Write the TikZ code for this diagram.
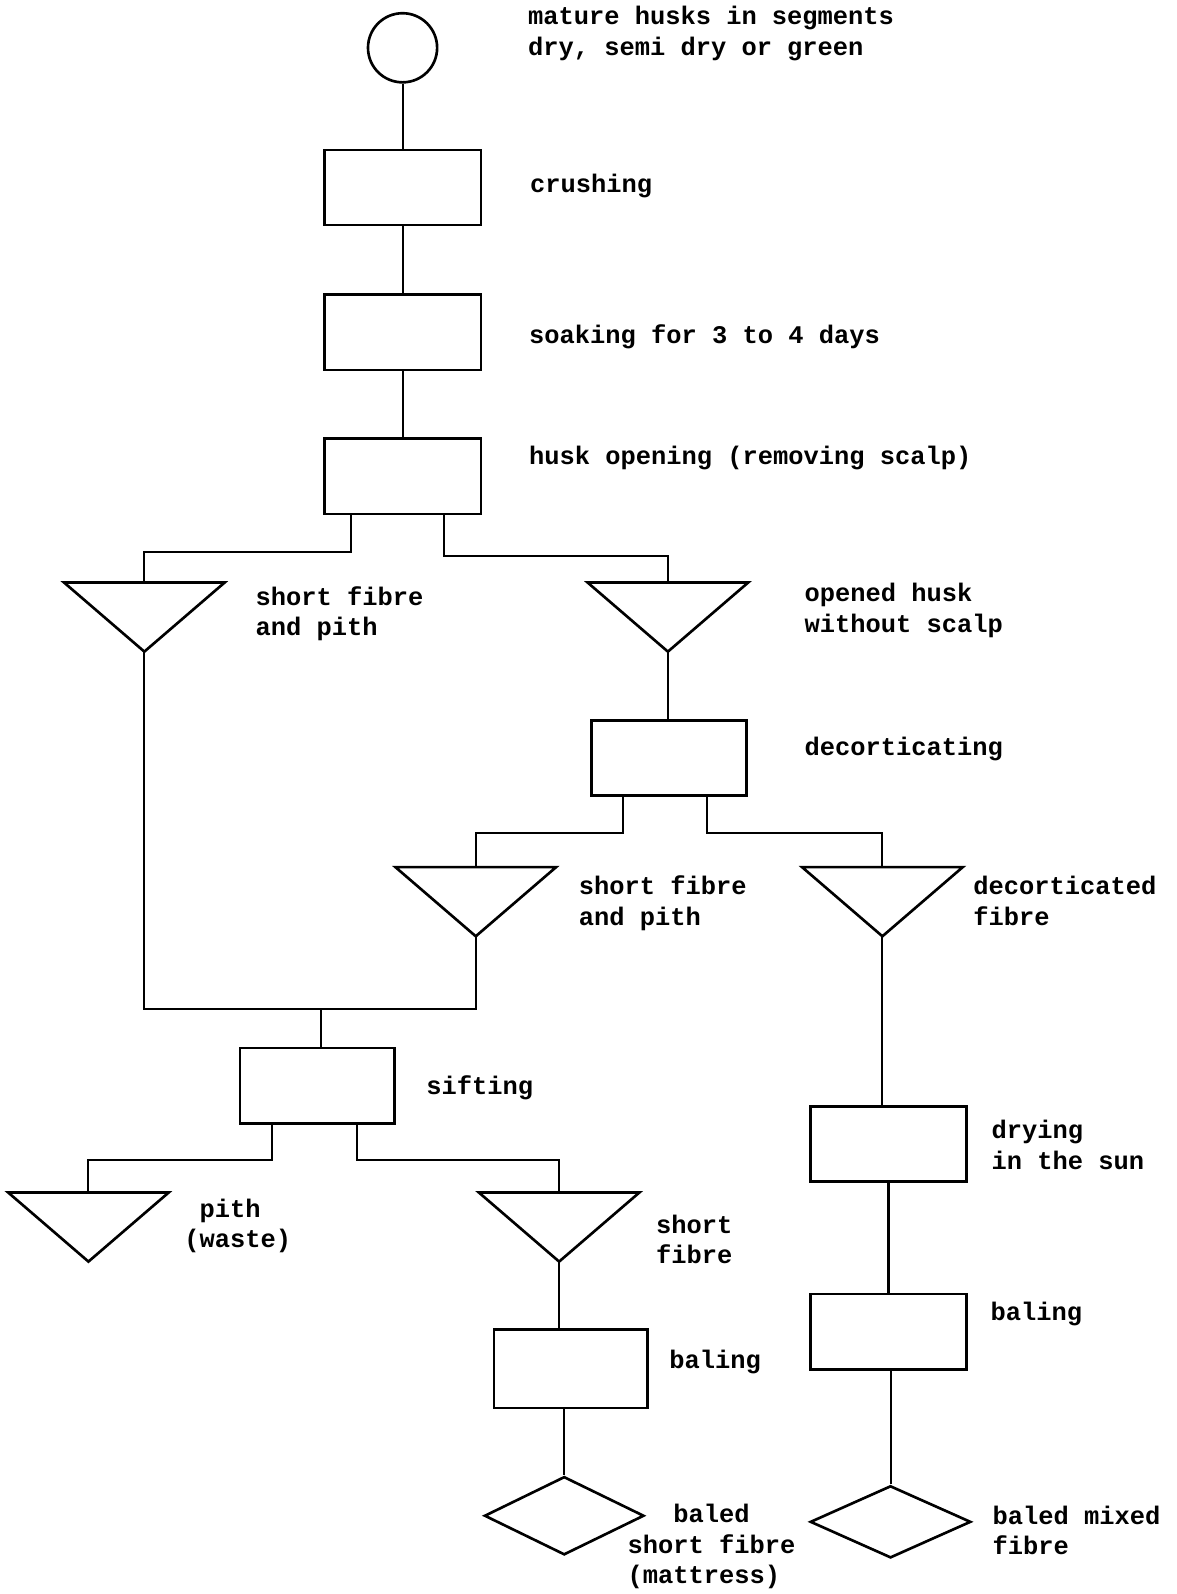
\documentclass[tikz,border=0pt]{standalone}
\usepackage{fontspec}
\setmainfont{Liberation Mono}
\usetikzlibrary{shapes.geometric}
% funnel (inverted triangle): #1 name of top centre, #2,#3 its position; apex is #1a
\newcommand\funnel[3]{%
  \coordinate (#1) at (#2,#3);
  \coordinate (#1a) at (#2,#3+68);
  \draw[shapeline] ([xshift=-39.5pt]#1) -- ([xshift=39.5pt]#1) -- (#1a) -- cycle;}
\begin{document}
\begin{tikzpicture}[x=0.5pt,y=-0.5pt,
  shapeline/.style={line width=1.3pt, line join=miter},
  conn/.style={line width=1pt},
  stepbox/.style={draw, shapeline, rectangle, inner sep=0pt, minimum width=77pt, minimum height=37pt},
  product/.style={draw, shapeline, diamond, inner sep=0pt, minimum width=79pt, minimum height=37pt},
  txt/.style={anchor=west, inner sep=0pt, align=left, font=\fontsize{12.5}{15}\selectfont\bfseries},
]
\useasboundingbox (0,0) rectangle (1157,1568);

% main column
\node[draw, shapeline, circle, minimum size=34pt, inner sep=0pt] (src) at (396,47) {};
\node[stepbox] (crush) at (396,184.5) {};
\node[stepbox] (soak) at (396,327) {};
\node[stepbox] (open) at (396,468.5) {};

\funnel{T1}{142}{573}
\funnel{T2}{657}{573}
\node[stepbox, minimum width=76pt] (decort) at (658,745.5) {};
\funnel{T3}{468}{853}
\funnel{T4}{868}{853}
\node[stepbox, minimum width=76pt] (sift) at (312,1068) {};
\funnel{T5}{87}{1173}
\funnel{T6}{550}{1173}
\node[stepbox] (dry) at (874,1125.5) {};
\node[stepbox] (bale2) at (874,1310) {};
\node[stepbox, minimum width=75.5pt, minimum height=38.5pt] (bale1) at (561.5,1346.5) {};
\node[product, minimum width=78.5pt, minimum height=38.5pt] (dia1) at (555,1491) {};
\node[product, minimum height=35.5pt] (dia2) at (876,1497) {};

\coordinate (merge) at (316,993);

% connectors
\draw[conn] (src) -- (crush);
\draw[conn] (crush) -- (soak);
\draw[conn] (soak) -- (open);
\draw[conn] ([xshift=-25.5pt]open.south) -- ++(0,36) -| (T1);
\draw[conn] ([xshift=20.5pt]open.south) -- ++(0,40) -| (T2);
\draw[conn] (T2a) -- (T2a |- decort.north);
\draw[conn] ([xshift=-22.5pt]decort.south) -- ++(0,36) -| (T3);
\draw[conn] ([xshift=18.5pt]decort.south) -- ++(0,36) -| (T4);
\draw[conn] (T1a) |- (T3a |- merge) -- (T3a);
\draw[conn] (merge) -- (merge |- sift.north);
\draw[conn] ([xshift=-22pt]sift.south) -- ++(0,35) -| (T5);
\draw[conn] ([xshift=19.5pt]sift.south) -- ++(0,35) -| (T6);
\draw[conn] (T6a) -- (T6a |- bale1.north);
\draw[conn] (bale1.south -| dia1) -- (dia1.north);
\draw[conn] (T4a) -- (T4a |- dry.north);
\draw[conn] (dry) -- (bale2);
\draw[conn] (bale2.south -| dia2) -- (dia2.north);

% labels
\node[txt] (l-src) at (519,33) {mature husks in segments\\dry, semi dry or green};
\node[txt] (l-crush) at (521,183) {crushing};
\node[txt] (l-soak) at (520,331) {soaking for 3 to 4 days};
\node[txt] (l-open) at (520,451) {husk opening (removing scalp)};
\node[txt] (l-T1) at (251,603.5) {short fibre\\and pith};
\node[txt] (l-T2) at (791,600.5) {opened husk\\without scalp};
\node[txt] (l-decort) at (791,737) {decorticating};
\node[txt] (l-T3) at (569,888.5) {short fibre\\and pith};
\node[txt] (l-T4) at (957,886) {decorticated\\fibre};
\node[txt] (l-sift) at (419,1070) {sifting};
\node[txt] (l-dry) at (975,1126) {drying\\in the sun};
\node[txt] (l-T5) at (181,1206) {\hphantom{(}pith\\(waste)};
\node[txt] (l-T6) at (645,1219) {short\\fibre};
\node[txt] (l-bale1) at (658,1340) {baling};
\node[txt] (l-bale2) at (974,1293) {baling};
\node[txt] (l-dia1) at (617,1521.5) {\hphantom{sho}baled\\short fibre\\(mattress)};
\node[txt] (l-dia2) at (976,1505.5) {baled mixed\\fibre};
\end{tikzpicture}
\end{document}
